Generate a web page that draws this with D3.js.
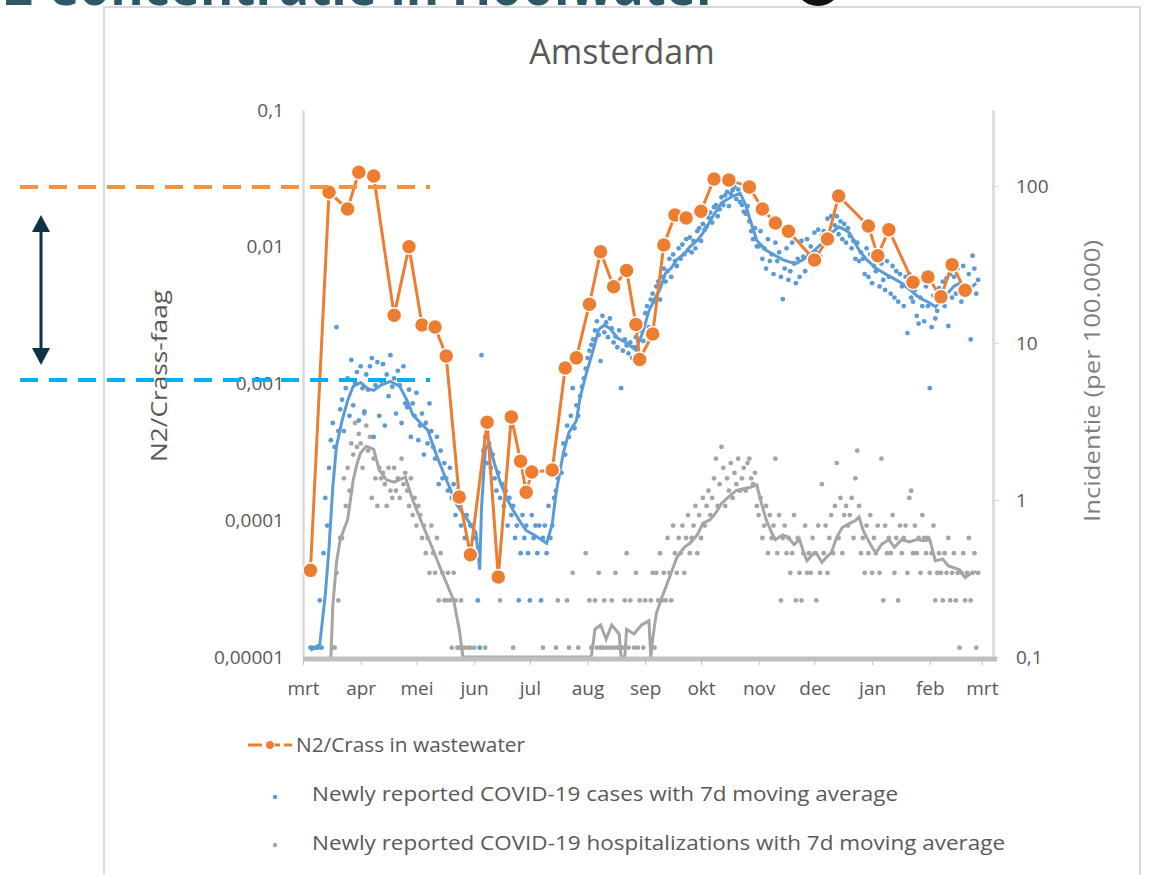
<!DOCTYPE html>
<html>
<head>
<meta charset="utf-8">
<script src="https://cdn.jsdelivr.net/npm/d3@7"></script>
<style>
  body { margin: 0; background: #fff; }
  svg { display: block; }
  svg text { font-family: "Open Sans", "Liberation Sans", sans-serif; fill: #595959; }
</style>
</head>
<body>
<div id="content"></div>
<script>
var startDate = new Date(2020, 2, 1);
var endDate = new Date(2021, 2, 7);
var population = 872757;

var monthLabels = ["mrt", "apr", "mei", "jun", "jul", "aug", "sep", "okt", "nov", "dec", "jan", "feb", "mrt"];
var leftTicks = [0.00001, 0.0001, 0.001, 0.01, 0.1];
var leftTickLabels = ["0,00001", "0,0001", "0,001", "0,01", "0,1"];
var rightTicks = [0.1, 1, 10, 100];
var rightTickLabels = ["0,1", "1", "10", "100"];

// N2/Crass in wastewater, day = days since 1 March 2020
var crassDay = [4, 14, 24, 30, 38, 49, 57, 64, 71, 77, 84, 90, 99, 105, 112, 117, 120, 123, 134, 141,
    147, 154, 160, 167, 174, 179, 181, 188, 194, 200, 206, 214, 221, 229, 240, 247, 254, 261, 275, 282,
    288, 304, 309, 315, 328, 336, 343, 349, 356];
var crassValue = [0.000043, 0.025, 0.0189, 0.035, 0.0329, 0.00316, 0.01, 0.00268, 0.00259, 0.00159,
    0.000148, 0.000056, 0.00052, 0.0000385, 0.00057, 0.00027, 0.00016, 0.000225, 0.000233, 0.0013,
    0.00154, 0.0038, 0.0092, 0.0051, 0.0067, 0.0027, 0.0015, 0.0023, 0.0103, 0.0171,
    0.0162, 0.0182, 0.0313, 0.0308, 0.0274, 0.0189, 0.0149, 0.013, 0.008, 0.0114,
    0.0235, 0.0142, 0.0086, 0.0133, 0.0055, 0.006, 0.0043, 0.0074, 0.0048];

// newly reported cases per day (count), one row per week from 1 March 2020
var casesCount = [
    0, 0, 0, 0, 1, 1, 0,
    1, 1, 2, 1, 4, 9, 6,
    14, 21, 27, 19, 110, 24, 33,
    38, 24, 45, 52, 30, 68, 35,
    48, 57, 28, 62, 45, 32, 55,
    44, 62, 70, 22, 47, 66, 30,
    50, 64, 26, 55, 40, 73, 46,
    52, 31, 58, 47, 27, 62, 36,
    34, 44, 22, 36, 30, 42, 21,
    26, 31, 17, 27, 20, 36, 24,
    19, 16, 22, 11, 18, 12, 15,
    12, 10, 14, 9, 11, 7, 10,
    8, 6, 9, 5, 7, 4, 6,
    6, 5, 4, 2, 1, 73, 18,
    22, 15, 20, 14, 17, 12, 10,
    13, 9, 11, 8, 10, 6, 9,
    7, 8, 5, 6, 2, 4, 7,
    5, 6, 4, 2, 7, 5, 6,
    4, 6, 2, 5, 6, 4, 8,
    5, 6, 9, 10, 12, 14, 13,
    20, 17, 26, 22, 30, 45, 25,
    35, 30, 40, 46, 52, 60, 70,
    78, 85, 92, 105, 120, 98, 67,
    130, 102, 118, 95, 125, 108, 88,
    96, 82, 105, 45, 78, 92, 84,
    75, 88, 70, 82, 95, 68, 105,
    110, 90, 135, 150, 110, 165, 180,
    160, 200, 215, 165, 230, 260, 215,
    250, 300, 230, 320, 290, 270, 350,
    300, 370, 320, 400, 340, 410, 330,
    390, 350, 450, 470, 390, 500, 460,
    480, 550, 590, 510, 640, 660, 560,
    620, 740, 660, 760, 800, 650, 780,
    820, 860, 720, 830, 690, 660, 600,
    580, 650, 520, 450, 400, 470, 360,
    360, 450, 300, 350, 260, 400, 290,
    320, 240, 380, 290, 330, 230, 166,
    260, 350, 220, 250, 380, 280, 210,
    300, 230, 390, 310, 250, 400, 320,
    360, 290, 440, 330, 460, 310, 420,
    450, 370, 540, 420, 560, 400, 490,
    560, 430, 520, 400, 500, 380, 470,
    420, 350, 390, 300, 380, 290, 330,
    300, 240, 350, 230, 320, 210, 270,
    250, 300, 200, 280, 220, 190, 290,
    230, 180, 270, 170, 250, 160, 240,
    200, 150, 230, 101, 240, 170, 160,
    190, 130, 116, 170, 150, 120, 200,
    150, 45, 110, 175, 125, 140, 195,
    175, 215, 150, 225, 112, 240, 170,
    230, 180, 260, 190, 160, 270, 200,
    190, 240, 92, 314, 260, 180, 220
];

// newly reported hospitalizations per day (count), one row per week from 1 March 2020
var hospCount = [
    0, 0, 0, 0, 0, 0, 0,
    0, 0, 0, 0, 0, 0, 0,
    0, 0, 1, 1, 3, 2, 5,
    5, 12, 8, 14, 10, 20, 17,
    27, 19, 23, 20, 14, 31, 26,
    18, 22, 9, 16, 12, 8, 14,
    12, 13, 11, 8, 14, 10, 9,
    14, 10, 12, 9, 16, 11, 13,
    10, 8, 12, 7, 9, 6, 8,
    7, 5, 6, 4, 5, 3, 6,
    4, 3, 5, 2, 4, 3, 2,
    2, 3, 2, 1, 3, 2, 1,
    1, 2, 0, 1, 0, 1, 1,
    0, 1, 0, 0, 0, 0, 0,
    1, 0, 0, 0, 0, 0, 0,
    0, 2, 0, 0, 0, 0, 0,
    0, 1, 0, 0, 0, 0, 0,
    0, 0, 0, 0, 0, 0, 0,
    0, 0, 0, 1, 0, 0, 0,
    0, 0, 0, 1, 2, 0, 0,
    0, 0, 2, 1, 0, 3, 0,
    0, 1, 0, 0, 0, 4, 0,
    2, 1, 0, 2, 1, 3, 1,
    1, 2, 1, 0, 1, 2, 1,
    3, 1, 0, 0, 1, 2, 4,
    1, 2, 0, 1, 3, 1, 2,
    0, 1, 2, 0, 0, 2, 3,
    1, 3, 2, 4, 2, 3, 2,
    5, 3, 2, 6, 4, 3, 5,
    4, 6, 3, 5, 7, 4, 5,
    6, 8, 4, 7, 5, 9, 6,
    8, 10, 7, 9, 12, 16, 8,
    11, 19, 14, 8, 12, 10, 15,
    9, 13, 11, 16, 10, 12, 14,
    10, 15, 16, 12, 11, 13, 8,
    7, 9, 5, 6, 8, 4, 7,
    5, 6, 16, 4, 7, 2, 5,
    6, 4, 5, 3, 4, 7, 2,
    5, 3, 2, 4, 6, 3, 4,
    3, 5, 4, 2, 6, 3, 11,
    4, 6, 3, 5, 7, 4, 8,
    15, 5, 9, 4, 7, 8, 6,
    7, 9, 5, 12, 18, 8, 4,
    5, 3, 6, 4, 7, 3, 5,
    4, 6, 3, 16, 2, 6, 4,
    5, 4, 7, 3, 5, 2, 6,
    4, 5, 6, 3, 9, 10, 4,
    6, 4, 5, 3, 7, 5, 4,
    5, 3, 4, 6, 2, 3, 4,
    3, 2, 4, 3, 5, 2, 3,
    4, 2, 3, 1, 3, 4, 2,
    3, 5, 2, 3, 4, 1, 3
];

// 7d moving average of cases (per 100.000)
var casesAvgDay = [4, 9, 12, 14, 16, 18, 21, 24, 27, 31, 35, 38, 42, 47, 52, 56, 59, 63, 67, 72,
    77, 83, 88, 93, 95, 96, 98, 100, 103, 106, 110, 113, 117, 120, 124, 127, 131, 134, 136, 140,
    143, 147, 149, 152, 156, 159, 162, 165, 169, 174, 179, 183, 186, 189, 192, 195, 198, 201, 205, 208,
    212, 215, 220, 225, 228, 231, 235, 238, 240, 244, 249, 254, 258, 261, 265, 269, 272, 276, 279, 284,
    288, 291, 294, 299, 303, 308, 312, 317, 322, 326, 330, 333, 337, 340, 344, 347, 350, 353, 357, 360, 362];
var casesAvgValue = [0.11, 0.12, 0.25, 0.5, 1.2, 2.2, 3.2, 4.3, 5.3, 5.6, 5.1, 5.0, 5.4, 5.7, 5.3, 4.3, 3.5, 3.1, 2.8, 1.9,
    1.35, 0.92, 0.76, 0.62, 0.36, 0.9, 2.1, 2.3, 1.7, 1.3, 1.0, 0.86, 0.72, 0.64, 0.6, 0.57, 0.53, 0.7, 1.1, 2.0,
    2.7, 3.2, 4.5, 6.2, 9.0, 12.2, 13, 12.4, 10.8, 10, 9.0, 12, 16, 19, 22, 28, 30, 34, 37, 41,
    45, 50, 63, 78, 82, 86, 90, 76, 63, 45, 39, 36, 34, 33, 32, 34, 36, 40, 43, 50,
    55, 53, 50, 39, 34, 30, 28, 26, 24, 22, 20, 19, 18, 17, 19, 21, 23, 24, 22, 23, 24];

// 7d moving average of hospitalizations (per 100.000)
var hospAvgDay = [15, 16, 18, 20, 22, 24, 26, 27, 29, 31, 34, 38, 41, 45, 49, 52, 55, 59, 64, 70,
    75, 81, 84, 86, 95, 110, 130, 150, 155, 157, 160, 163, 166, 170, 171, 173, 174, 178, 182, 186,
    187, 188, 190, 193, 197, 201, 205, 208, 212, 215, 219, 222, 225, 229, 233, 237, 240, 244, 246, 249,
    252, 254, 258, 261, 264, 267, 269, 271, 274, 276, 279, 282, 284, 287, 290, 294, 297, 299, 301, 303,
    306, 308, 311, 315, 318, 322, 326, 330, 334, 337, 340, 344, 347, 350, 353, 356, 359, 362];
var hospAvgValue = [0.05, 0.21, 0.4, 0.56, 0.65, 0.75, 1.1, 1.34, 1.7, 2.0, 2.2, 2.1, 1.55, 1.34, 1.3, 1.35, 1.4, 1.0, 0.71, 0.48,
    0.34, 0.23, 0.15, 0.08, 0.04, 0.03, 0.03, 0.05, 0.08, 0.15, 0.16, 0.13, 0.16, 0.14, 0.08, 0.09, 0.15, 0.14, 0.16, 0.17,
    0.08, 0.13, 0.19, 0.24, 0.32, 0.43, 0.5, 0.53, 0.6, 0.71, 0.75, 0.83, 0.95, 1.05, 1.15, 1.18, 1.2, 1.25, 1.0, 0.75,
    0.62, 0.56, 0.6, 0.58, 0.52, 0.56, 0.47, 0.41, 0.45, 0.46, 0.4, 0.44, 0.46, 0.58, 0.67, 0.71, 0.74, 0.78, 0.65, 0.58,
    0.5, 0.46, 0.52, 0.56, 0.5, 0.56, 0.54, 0.56, 0.55, 0.56, 0.41, 0.42, 0.38, 0.37, 0.36, 0.32, 0.34, 0.35];

(() => {
    var width = 1150, height = 875;
    var plot = { left: 303, right: 993, top: 110, bottom: 657 };

    var dayDate = function (d) { return d3.timeDay.offset(startDate, d); };
    var per100k = function (c) { return c / population * 100000; };

    var svg = d3.select('#content').append('svg')
        .attr('width', width)
        .attr('height', height);

    // heading of the slide, cut off at the top
    svg.append('text')
        .attr('x', 4).attr('y', 5)
        .attr('textLength', 715).attr('lengthAdjust', 'spacingAndGlyphs')
        .style('font-size', '60px').style('font-weight', 'bold').style('fill', '#2e5866')
        .text('2 Concentratie in rioolwater');
    svg.append('circle').attr('cx', 818).attr('cy', -18).attr('r', 24).style('fill', '#111');

    // chart frame
    svg.append('rect')
        .attr('x', 104).attr('y', 7).attr('width', 1036).attr('height', 900)
        .style('fill', '#fff').style('stroke', '#d9d9d9').style('stroke-width', 2);

    var x = d3.scaleTime().domain([startDate, endDate]).range([plot.left, plot.right]);
    var yL = d3.scaleLog().domain([0.00001, 0.1]).range([plot.bottom, plot.top]);
    var yR = d3.scaleLog().domain([0.1, 100]).range([plot.bottom, 186]);
    yR.domain([0.1, yR.invert(plot.top)]).range([plot.bottom, plot.top]).clamp(true);

    svg.append('text')
        .attr('x', 622).attr('y', 64)
        .style('text-anchor', 'middle').style('font-size', '34px')
        .text('Amsterdam');

    // axes
    var leftAxis = d3.axisLeft(yL).tickValues(leftTicks)
        .tickFormat(function (d, i) { return leftTickLabels[i]; })
        .tickSize(0).tickPadding(19);
    var gl = svg.append('g').attr('transform', 'translate(' + plot.left + ',0)').call(leftAxis);
    gl.select('.domain').style('stroke', '#d9d9d9').style('stroke-width', 2.5);
    gl.selectAll('text').style('font-size', '19px').style('font-family', null);

    var rightAxis = d3.axisRight(yR).tickValues(rightTicks)
        .tickFormat(function (d, i) { return rightTickLabels[i]; })
        .tickSize(6).tickSizeOuter(0).tickPadding(17);
    var gr = svg.append('g').attr('transform', 'translate(' + plot.right + ',0)').call(rightAxis);
    gr.select('.domain').style('stroke', '#d9d9d9').style('stroke-width', 2.5);
    gr.selectAll('line').style('stroke', '#d9d9d9');
    gr.selectAll('text').style('font-size', '19px').style('font-family', null);

    svg.append('text')
        .attr('transform', 'translate(167,376) rotate(-90)')
        .attr('textLength', 172).attr('lengthAdjust', 'spacingAndGlyphs')
        .style('text-anchor', 'middle').style('font-size', '21px')
        .text('N2/Crass-faag');
    svg.append('text')
        .attr('transform', 'translate(1100,381) rotate(-90)')
        .attr('textLength', 282).attr('lengthAdjust', 'spacingAndGlyphs')
        .style('text-anchor', 'middle').style('font-size', '21px').style('fill', '#7f7f7f')
        .text('Incidentie (per 100.000)');

    // daily dots
    var hospDots = hospCount.map(function (c, i) { return { day: i, value: per100k(c) }; })
        .filter(function (d) { return d.value > 0; });
    var caseDots = casesCount.map(function (c, i) { return { day: i, value: per100k(c) }; })
        .filter(function (d) { return d.value > 0; });

    svg.append('g').selectAll('circle')
        .data(hospDots)
        .enter().append('circle')
        .attr('cx', function (d) { return x(dayDate(d.day)); })
        .attr('cy', function (d) { return yR(d.value); })
        .attr('r', 2.4)
        .style('fill', '#a5a5a5');

    svg.append('g').selectAll('circle')
        .data(caseDots)
        .enter().append('circle')
        .attr('cx', function (d) { return x(dayDate(d.day)); })
        .attr('cy', function (d) { return yR(d.value); })
        .attr('r', 2.4)
        .style('fill', '#5b9bd5');

    // moving averages
    var avgLine = d3.line()
        .x(function (d) { return x(dayDate(d.day)); })
        .y(function (d) { return yR(d.value); });

    svg.append('path')
        .datum(hospAvgDay.map(function (d, i) { return { day: d, value: hospAvgValue[i] }; }))
        .attr('d', avgLine)
        .style('fill', 'none').style('stroke', '#a5a5a5').style('stroke-width', 3);

    svg.append('path')
        .datum(casesAvgDay.map(function (d, i) { return { day: d, value: casesAvgValue[i] }; }))
        .attr('d', avgLine)
        .style('fill', 'none').style('stroke', '#5b9bd5').style('stroke-width', 3);

    // N2/Crass
    var crass = crassDay.map(function (d, i) { return { day: d, value: crassValue[i] }; });
    var crassLine = d3.line()
        .x(function (d) { return x(dayDate(d.day)); })
        .y(function (d) { return yL(d.value); });

    svg.append('path')
        .datum(crass)
        .attr('d', crassLine)
        .style('fill', 'none').style('stroke', '#ed7d31').style('stroke-width', 3);

    svg.append('g').selectAll('circle')
        .data(crass)
        .enter().append('circle')
        .attr('cx', function (d) { return x(dayDate(d.day)); })
        .attr('cy', function (d) { return yL(d.value); })
        .attr('r', 7.5)
        .style('fill', '#ed7d31').style('stroke', '#fff').style('stroke-width', 1.5);

    // x axis on top of the data
    var months = d3.timeMonth.range(startDate, d3.timeDay.offset(endDate, -5));
    var xAxis = d3.axisBottom(x).tickValues(months)
        .tickFormat(function (d, i) { return monthLabels[i]; })
        .tickSize(6).tickSizeOuter(0).tickPadding(17);
    var gx = svg.append('g').attr('transform', 'translate(0,' + (plot.bottom + 2) + ')').call(xAxis);
    gx.select('.domain').attr('d', 'M' + plot.left + ',0H' + (plot.right + 4))
        .style('stroke', '#bfbfbf').style('stroke-width', 5);
    gx.selectAll('line').style('stroke', '#bfbfbf');
    gx.selectAll('text').style('font-size', '19px').style('font-family', null);

    // legend
    var legend = svg.append('g');
    legend.append('line').attr('x1', 248).attr('x2', 292).attr('y1', 745).attr('y2', 745)
        .style('stroke', '#ed7d31').style('stroke-width', 3).style('stroke-dasharray', '14,4');
    legend.append('circle').attr('cx', 270).attr('cy', 745).attr('r', 4.5)
        .style('fill', '#ed7d31').style('stroke', '#fff').style('stroke-width', 1);
    legend.append('text').attr('x', 296).attr('y', 752)
        .attr('textLength', 229).attr('lengthAdjust', 'spacingAndGlyphs')
        .style('font-size', '20px').text('N2/Crass in wastewater');
    legend.append('circle').attr('cx', 275).attr('cy', 797).attr('r', 2.2).style('fill', '#5b9bd5');
    legend.append('text').attr('x', 312).attr('y', 801)
        .attr('textLength', 586).attr('lengthAdjust', 'spacingAndGlyphs')
        .style('font-size', '20px').text('Newly reported COVID-19 cases with 7d moving average');
    legend.append('circle').attr('cx', 275).attr('cy', 845).attr('r', 2.2).style('fill', '#a5a5a5');
    legend.append('text').attr('x', 312).attr('y', 850)
        .attr('textLength', 693).attr('lengthAdjust', 'spacingAndGlyphs')
        .style('font-size', '20px').text('Newly reported COVID-19 hospitalizations with 7d moving average');

    // slide annotations: reference levels and arrow
    var notes = svg.append('g');
    notes.append('line').attr('x1', 20).attr('x2', 430).attr('y1', 187).attr('y2', 187)
        .style('stroke', '#f7923a').style('stroke-width', 4).style('stroke-dasharray', '18,11');
    notes.append('line').attr('x1', 20).attr('x2', 430).attr('y1', 380).attr('y2', 380)
        .style('stroke', '#00b0f0').style('stroke-width', 4).style('stroke-dasharray', '18,11');
    notes.append('line').attr('x1', 41).attr('x2', 41).attr('y1', 228).attr('y2', 352)
        .style('stroke', '#0f3340').style('stroke-width', 3);
    notes.append('path').attr('d', 'M41,215L50,232H32Z').style('fill', '#0f3340');
    notes.append('path').attr('d', 'M41,365L50,348H32Z').style('fill', '#0f3340');
})();
</script>
</body>
</html>
